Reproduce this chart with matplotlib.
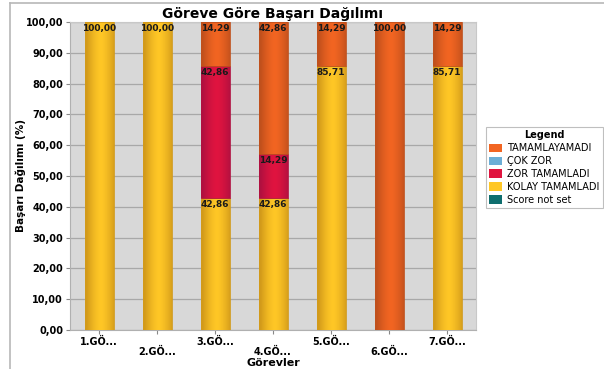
import numpy as np
import matplotlib
matplotlib.use("Agg")
import matplotlib.pyplot as plt
from matplotlib.patches import Patch
from matplotlib.lines import Line2D
from matplotlib.colors import to_rgb

categories = ["1.GÖ...", "2.GÖ...", "3.GÖ...", "4.GÖ...", "5.GÖ...", "6.GÖ...", "7.GÖ..."]
kolay = [100.0, 100.0, 42.86, 42.86, 85.71, 0.0, 85.71]
zor = [0.0, 0.0, 42.86, 14.29, 0.0, 0.0, 0.0]
cok_zor = [0.0, 0.0, 0.0, 0.0, 0.0, 0.0, 0.0]
tamamlayamadi = [0.0, 0.0, 14.29, 42.86, 14.29, 100.0, 14.29]
score_not_set = [0.0, 0.0, 0.0, 0.0, 0.0, 0.0, 0.0]

series = [
    ("KOLAY TAMAMLADI", kolay, "#FFC726", "#D29A1A"),
    ("ZOR TAMAMLADI", zor, "#E0143F", "#B01040"),
    ("ÇOK ZOR", cok_zor, "#6BAED6", "#4A8AB0"),
    ("TAMAMLAYAMADI", tamamlayamadi, "#F26522", "#C0501C"),
    ("Score not set", score_not_set, "#0E6E6E", "#0A5050"),
]
legend_order = ["TAMAMLAYAMADI", "ÇOK ZOR", "ZOR TAMAMLADI", "KOLAY TAMAMLADI", "Score not set"]

fig = plt.figure(figsize=(6.04, 3.69), dpi=100)
fig.patch.set_facecolor("white")
ax = fig.add_axes([70/604, 1-330/369, 406/604, 308/369])
ax.set_facecolor("#D8D8D8")

x = np.arange(len(categories))
width = 0.5
bottoms = np.zeros(len(categories))

def grad(center, edge, n=64):
    c = np.array(to_rgb(center)); e = np.array(to_rgb(edge))
    t = np.linspace(-1, 1, n)
    w = np.clip(1 - np.abs(t - 0.1) ** 1.5, 0, 1)[:, None]
    return (e + (c - e) * w)[None, :, :]

for name, vals, cc, ec in series:
    vals = np.array(vals)
    for i, v in enumerate(vals):
        if v <= 0:
            continue
        b = bottoms[i]
        ax.imshow(grad(cc, ec), extent=(x[i]-width/2, x[i]+width/2, b, b+v),
                  aspect="auto", zorder=3, interpolation="bilinear")
        ax.bar(x[i], v, width, bottom=b, facecolor="none", edgecolor=ec,
               linewidth=0.6, zorder=4)
        ax.text(x[i], b+v-0.8, f"{v:.2f}".replace(".", ","), ha="center", va="top",
                fontsize=6.5, fontweight="bold", color="#1a1a1a", zorder=5,
                family="DejaVu Sans")
    bottoms += vals

ax.set_xlim(-0.5, len(categories)-0.5)
ax.set_ylim(0, 100)
ax.set_yticks(np.arange(0, 101, 10))
ax.set_yticklabels([f"{v:.2f}".replace(".", ",") for v in np.arange(0, 101, 10)],
                   fontsize=7, fontweight="bold")
ax.set_xticks(x)
ax.set_xticklabels([("" if i % 2 == 0 else "\n") + c for i, c in enumerate(categories)],
                   fontsize=7, fontweight="bold", linespacing=1.0)
ax.tick_params(axis="both", length=3, color="#888888", pad=2)
ax.grid(axis="y", color="#A8A8A8", linewidth=0.9, zorder=1)
ax.set_axisbelow(True)
for s in ["top", "right"]:
    ax.spines[s].set_color("#C8C8C8")
for s in ["left", "bottom"]:
    ax.spines[s].set_color("#B0B0B0")

fig.text(21/604, 1-176/369, "Başarı Dağılımı (%)", rotation=90, ha="center", va="center",
         fontsize=7.5, fontweight="bold")
fig.text(273/604, 1-363/369, "Görevler", ha="center", va="center",
         fontsize=8, fontweight="bold")
ax.set_title("Göreve Göre Başarı Dağılımı", fontsize=10, fontweight="bold", pad=3)

col = {s[0]: s[2] for s in series}
handles = [Patch(facecolor=col[n], edgecolor="none") for n in legend_order]
leg = fig.legend(handles, legend_order, title="Legend", loc="upper left",
                 bbox_to_anchor=(486/604, 1-127/369), borderaxespad=0, fontsize=7,
                 title_fontproperties={"weight": "bold", "size": 7},
                 frameon=True, fancybox=False, edgecolor="#B0B0B0",
                 handlelength=1.3, handleheight=1.0, handletextpad=0.5,
                 labelspacing=0.3, borderpad=0.35)
leg.get_frame().set_linewidth(0.8)

fig.add_artist(Line2D([10/604, 1], [1-3/369, 1-3/369], color="#B8B8B8", lw=1.2))
fig.add_artist(Line2D([10/604, 10/604], [0, 1-3/369], color="#B8B8B8", lw=1.2))

fig.savefig("out.png", dpi=100)
